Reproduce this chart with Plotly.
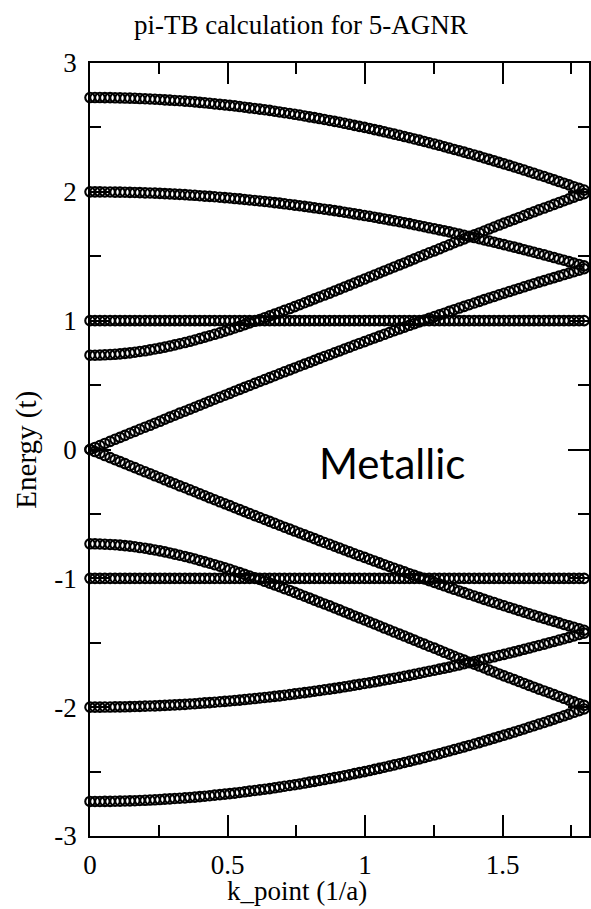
import plotly.graph_objects as go

# k points (1/a)
k_points = [
    0.000, 0.018, 0.036, 0.054, 0.073, 0.091, 0.109, 0.127, 0.145, 0.163,
    0.181, 0.200, 0.218, 0.236, 0.254, 0.272, 0.290, 0.308, 0.326, 0.345,
    0.363, 0.381, 0.399, 0.417, 0.435, 0.453, 0.472, 0.490, 0.508, 0.526,
    0.544, 0.562, 0.580, 0.599, 0.617, 0.635, 0.653, 0.671, 0.689, 0.707,
    0.726, 0.744, 0.762, 0.780, 0.798, 0.816, 0.834, 0.852, 0.871, 0.889,
    0.907, 0.925, 0.943, 0.961, 0.979, 0.998, 1.016, 1.034, 1.052, 1.070,
    1.088, 1.106, 1.125, 1.143, 1.161, 1.179, 1.197, 1.215, 1.233, 1.252,
    1.270, 1.288, 1.306, 1.324, 1.342, 1.360, 1.378, 1.397, 1.415, 1.433,
    1.451, 1.469, 1.487, 1.505, 1.524, 1.542, 1.560, 1.578, 1.596, 1.614,
    1.632, 1.651, 1.669, 1.687, 1.705, 1.723, 1.741, 1.759, 1.778, 1.796,
    1.814,
]

band_c1 = [
    2.732, 2.732, 2.732, 2.731, 2.731, 2.730, 2.729, 2.728, 2.727, 2.726,
    2.724, 2.723, 2.721, 2.719, 2.717, 2.714, 2.712, 2.709, 2.707, 2.704,
    2.701, 2.698, 2.694, 2.691, 2.687, 2.683, 2.679, 2.675, 2.671, 2.667,
    2.662, 2.657, 2.652, 2.647, 2.642, 2.637, 2.632, 2.626, 2.620, 2.614,
    2.608, 2.602, 2.596, 2.589, 2.582, 2.576, 2.569, 2.562, 2.554, 2.547,
    2.540, 2.532, 2.524, 2.516, 2.508, 2.500, 2.492, 2.483, 2.475, 2.466,
    2.457, 2.448, 2.439, 2.429, 2.420, 2.410, 2.401, 2.391, 2.381, 2.371,
    2.361, 2.350, 2.340, 2.329, 2.319, 2.308, 2.297, 2.286, 2.275, 2.263,
    2.252, 2.240, 2.229, 2.217, 2.205, 2.193, 2.181, 2.169, 2.156, 2.144,
    2.131, 2.119, 2.106, 2.093, 2.080, 2.067, 2.054, 2.040, 2.027, 2.014,
    2.000,
]

band_c2 = [
    2.000, 2.000, 2.000, 1.999, 1.999, 1.998, 1.998, 1.997, 1.996, 1.995,
    1.994, 1.992, 1.991, 1.990, 1.988, 1.986, 1.984, 1.982, 1.980, 1.978,
    1.975, 1.973, 1.970, 1.967, 1.965, 1.962, 1.958, 1.955, 1.952, 1.948,
    1.945, 1.941, 1.937, 1.933, 1.929, 1.925, 1.921, 1.916, 1.912, 1.907,
    1.902, 1.897, 1.892, 1.887, 1.882, 1.876, 1.871, 1.865, 1.860, 1.854,
    1.848, 1.842, 1.836, 1.829, 1.823, 1.816, 1.810, 1.803, 1.796, 1.789,
    1.782, 1.775, 1.768, 1.760, 1.753, 1.745, 1.737, 1.729, 1.721, 1.713,
    1.705, 1.697, 1.689, 1.680, 1.672, 1.663, 1.654, 1.645, 1.636, 1.627,
    1.618, 1.609, 1.599, 1.590, 1.580, 1.571, 1.561, 1.551, 1.541, 1.531,
    1.521, 1.511, 1.500, 1.490, 1.479, 1.469, 1.458, 1.447, 1.436, 1.425,
    1.414,
]

band_c3 = [1.0] * 101

band_c4 = [
    0.000, 0.016, 0.031, 0.047, 0.063, 0.079, 0.094, 0.110, 0.126, 0.141,
    0.157, 0.173, 0.188, 0.204, 0.219, 0.235, 0.251, 0.266, 0.282, 0.297,
    0.313, 0.328, 0.344, 0.359, 0.375, 0.390, 0.406, 0.421, 0.436, 0.452,
    0.467, 0.482, 0.497, 0.513, 0.528, 0.543, 0.558, 0.573, 0.588, 0.603,
    0.618, 0.633, 0.648, 0.663, 0.677, 0.692, 0.707, 0.722, 0.736, 0.751,
    0.765, 0.780, 0.794, 0.809, 0.823, 0.837, 0.852, 0.866, 0.880, 0.894,
    0.908, 0.922, 0.936, 0.950, 0.964, 0.977, 0.991, 1.005, 1.018, 1.032,
    1.045, 1.058, 1.072, 1.085, 1.098, 1.111, 1.124, 1.137, 1.150, 1.163,
    1.176, 1.188, 1.201, 1.213, 1.226, 1.238, 1.250, 1.263, 1.275, 1.287,
    1.299, 1.311, 1.323, 1.334, 1.346, 1.358, 1.369, 1.380, 1.392, 1.403,
    1.414,
]

band_c5 = [
    0.732, 0.732, 0.733, 0.735, 0.737, 0.739, 0.742, 0.746, 0.750, 0.755,
    0.761, 0.766, 0.773, 0.780, 0.787, 0.795, 0.803, 0.812, 0.821, 0.830,
    0.840, 0.850, 0.861, 0.872, 0.883, 0.894, 0.906, 0.918, 0.930, 0.943,
    0.956, 0.969, 0.982, 0.995, 1.009, 1.023, 1.037, 1.051, 1.065, 1.080,
    1.094, 1.109, 1.124, 1.139, 1.154, 1.169, 1.184, 1.199, 1.214, 1.230,
    1.245, 1.261, 1.276, 1.292, 1.307, 1.323, 1.339, 1.354, 1.370, 1.386,
    1.401, 1.417, 1.433, 1.448, 1.464, 1.480, 1.496, 1.511, 1.527, 1.542,
    1.558, 1.574, 1.589, 1.605, 1.620, 1.635, 1.651, 1.666, 1.681, 1.696,
    1.712, 1.727, 1.742, 1.757, 1.772, 1.786, 1.801, 1.816, 1.831, 1.845,
    1.860, 1.874, 1.888, 1.903, 1.917, 1.931, 1.945, 1.959, 1.973, 1.986,
    2.000,
]

band_v1 = [
    -2.732, -2.732, -2.732, -2.731, -2.731, -2.730, -2.729, -2.728, -2.727, -2.726,
    -2.724, -2.723, -2.721, -2.719, -2.717, -2.714, -2.712, -2.709, -2.707, -2.704,
    -2.701, -2.698, -2.694, -2.691, -2.687, -2.683, -2.679, -2.675, -2.671, -2.667,
    -2.662, -2.657, -2.652, -2.647, -2.642, -2.637, -2.632, -2.626, -2.620, -2.614,
    -2.608, -2.602, -2.596, -2.589, -2.582, -2.576, -2.569, -2.562, -2.554, -2.547,
    -2.540, -2.532, -2.524, -2.516, -2.508, -2.500, -2.492, -2.483, -2.475, -2.466,
    -2.457, -2.448, -2.439, -2.429, -2.420, -2.410, -2.401, -2.391, -2.381, -2.371,
    -2.361, -2.350, -2.340, -2.329, -2.319, -2.308, -2.297, -2.286, -2.275, -2.263,
    -2.252, -2.240, -2.229, -2.217, -2.205, -2.193, -2.181, -2.169, -2.156, -2.144,
    -2.131, -2.119, -2.106, -2.093, -2.080, -2.067, -2.054, -2.040, -2.027, -2.014,
    -2.000,
]

band_v2 = [
    -2.000, -2.000, -2.000, -1.999, -1.999, -1.998, -1.998, -1.997, -1.996, -1.995,
    -1.994, -1.992, -1.991, -1.990, -1.988, -1.986, -1.984, -1.982, -1.980, -1.978,
    -1.975, -1.973, -1.970, -1.967, -1.965, -1.962, -1.958, -1.955, -1.952, -1.948,
    -1.945, -1.941, -1.937, -1.933, -1.929, -1.925, -1.921, -1.916, -1.912, -1.907,
    -1.902, -1.897, -1.892, -1.887, -1.882, -1.876, -1.871, -1.865, -1.860, -1.854,
    -1.848, -1.842, -1.836, -1.829, -1.823, -1.816, -1.810, -1.803, -1.796, -1.789,
    -1.782, -1.775, -1.768, -1.760, -1.753, -1.745, -1.737, -1.729, -1.721, -1.713,
    -1.705, -1.697, -1.689, -1.680, -1.672, -1.663, -1.654, -1.645, -1.636, -1.627,
    -1.618, -1.609, -1.599, -1.590, -1.580, -1.571, -1.561, -1.551, -1.541, -1.531,
    -1.521, -1.511, -1.500, -1.490, -1.479, -1.469, -1.458, -1.447, -1.436, -1.425,
    -1.414,
]

band_v3 = [-1.0] * 101

band_v4 = [
    -0.000, -0.016, -0.031, -0.047, -0.063, -0.079, -0.094, -0.110, -0.126, -0.141,
    -0.157, -0.173, -0.188, -0.204, -0.219, -0.235, -0.251, -0.266, -0.282, -0.297,
    -0.313, -0.328, -0.344, -0.359, -0.375, -0.390, -0.406, -0.421, -0.436, -0.452,
    -0.467, -0.482, -0.497, -0.513, -0.528, -0.543, -0.558, -0.573, -0.588, -0.603,
    -0.618, -0.633, -0.648, -0.663, -0.677, -0.692, -0.707, -0.722, -0.736, -0.751,
    -0.765, -0.780, -0.794, -0.809, -0.823, -0.837, -0.852, -0.866, -0.880, -0.894,
    -0.908, -0.922, -0.936, -0.950, -0.964, -0.977, -0.991, -1.005, -1.018, -1.032,
    -1.045, -1.058, -1.072, -1.085, -1.098, -1.111, -1.124, -1.137, -1.150, -1.163,
    -1.176, -1.188, -1.201, -1.213, -1.226, -1.238, -1.250, -1.263, -1.275, -1.287,
    -1.299, -1.311, -1.323, -1.334, -1.346, -1.358, -1.369, -1.380, -1.392, -1.403,
    -1.414,
]

band_v5 = [
    -0.732, -0.732, -0.733, -0.735, -0.737, -0.739, -0.742, -0.746, -0.750, -0.755,
    -0.761, -0.766, -0.773, -0.780, -0.787, -0.795, -0.803, -0.812, -0.821, -0.830,
    -0.840, -0.850, -0.861, -0.872, -0.883, -0.894, -0.906, -0.918, -0.930, -0.943,
    -0.956, -0.969, -0.982, -0.995, -1.009, -1.023, -1.037, -1.051, -1.065, -1.080,
    -1.094, -1.109, -1.124, -1.139, -1.154, -1.169, -1.184, -1.199, -1.214, -1.230,
    -1.245, -1.261, -1.276, -1.292, -1.307, -1.323, -1.339, -1.354, -1.370, -1.386,
    -1.401, -1.417, -1.433, -1.448, -1.464, -1.480, -1.496, -1.511, -1.527, -1.542,
    -1.558, -1.574, -1.589, -1.605, -1.620, -1.635, -1.651, -1.666, -1.681, -1.696,
    -1.712, -1.727, -1.742, -1.757, -1.772, -1.786, -1.801, -1.816, -1.831, -1.845,
    -1.860, -1.874, -1.888, -1.903, -1.917, -1.931, -1.945, -1.959, -1.973, -1.986,
    -2.000,
]

x_tick_vals = [0, 0.5, 1, 1.5]
x_tick_text = ["0", "0.5", "1", "1.5"]
y_tick_vals = [-3, -2, -1, 0, 1, 2, 3]
y_tick_text = ["-3", "-2", "-1", "0", "1", "2", "3"]

bands = [band_c1, band_c2, band_c3, band_c4, band_c5,
         band_v1, band_v2, band_v3, band_v4, band_v5]

fig = go.Figure()
for b in bands:
    fig.add_trace(go.Scatter(
        x=k_points, y=b, mode="markers", cliponaxis=False, showlegend=False,
        hoverinfo="skip",
        marker=dict(symbol="circle-open", size=9.5, color="black",
                    line=dict(width=2.1, color="black")),
    ))

serif = "Liberation Serif, Times New Roman, serif"
axis_common = dict(
    showline=True, linecolor="black", linewidth=1.5, mirror="allticks",
    ticks="inside", tickcolor="black", tickwidth=1.5, ticklen=21,
    showgrid=False, zeroline=False, automargin=False,
    tickfont=dict(family=serif, size=27, color="black"),
)
fig.update_xaxes(
    range=[0, 1.8138], tickvals=x_tick_vals, ticktext=x_tick_text,
    minor=dict(ticks="inside", ticklen=11, tickwidth=1.5, tickcolor="black",
               dtick=0.25, tick0=0, showgrid=False),
    ticklabelstandoff=4,
    **axis_common,
)
fig.update_yaxes(
    range=[-3, 3], tickvals=y_tick_vals, ticktext=y_tick_text,
    minor=dict(ticks="inside", ticklen=11, tickwidth=1.5, tickcolor="black",
               dtick=0.5, tick0=0, showgrid=False),
    ticklabelstandoff=6,
    **axis_common,
)

fig.update_layout(
    width=591, height=909,
    margin=dict(l=90, r=2, t=63, b=73, autoexpand=False),
    paper_bgcolor="white", plot_bgcolor="white",
    annotations=[
        dict(text="pi-TB calculation for 5-AGNR", xref="paper", yref="paper",
             x=0.423, y=1.049, xanchor="center", yanchor="middle",
             showarrow=False, font=dict(family=serif, size=27, color="black")),
        dict(text="k_point (1/a)", xref="paper", yref="paper",
             x=0.415, y=-0.0712, xanchor="center", yanchor="middle",
             showarrow=False, font=dict(family=serif, size=27, color="black")),
        dict(text="Energy (t)", xref="paper", yref="paper", textangle=-90,
             x=-0.128, y=0.5, xanchor="center", yanchor="middle",
             showarrow=False, font=dict(family=serif, size=29, color="black")),
        dict(text="Metallic", xref="x", yref="y", x=1.098, y=-0.105,
             xanchor="center", yanchor="middle", showarrow=False,
             font=dict(family="Lato, Open Sans, sans-serif", size=42, color="black")),
    ],
)

fig.write_html(
    "out.html",
    config={"displayModeBar": False},
    post_script="document.body.style.margin='0';document.body.style.overflow='hidden';",
)
